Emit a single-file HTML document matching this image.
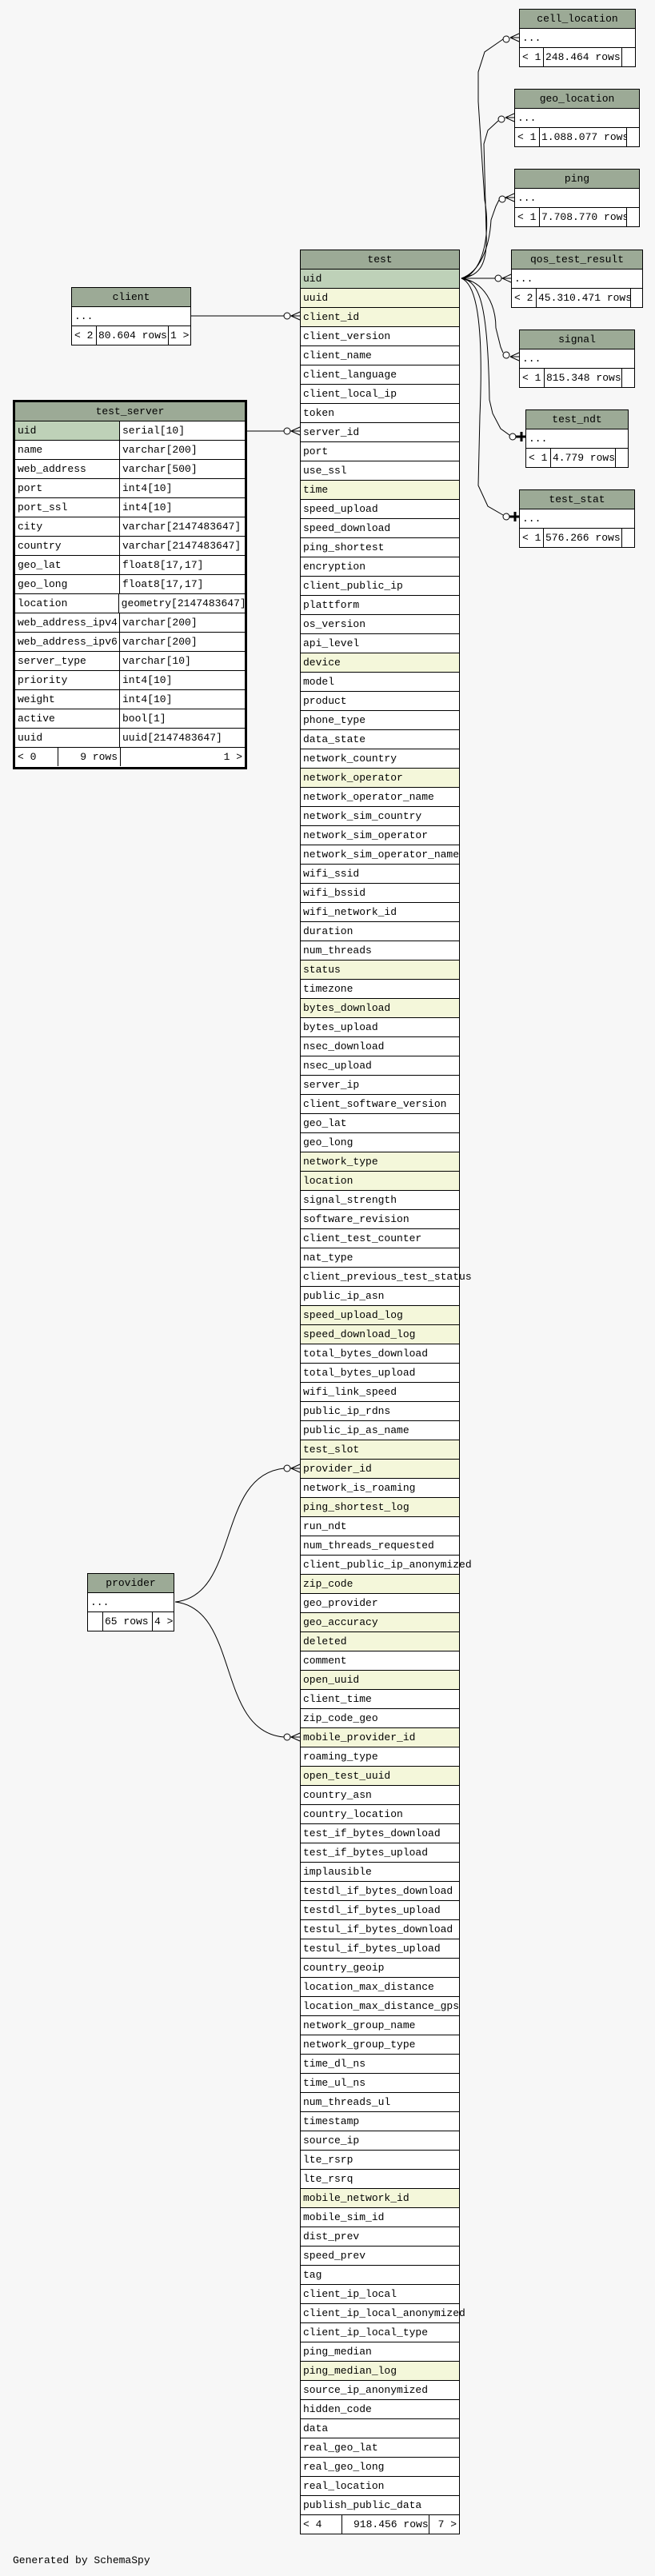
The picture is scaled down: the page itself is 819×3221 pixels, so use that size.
<!DOCTYPE html>
<html><head><meta charset="utf-8">
<style>
body{margin:0;background:#f7f7f7;width:819px;height:3221px;position:relative;overflow:hidden;font-family:"Liberation Mono","DejaVu Sans Mono",monospace;font-size:13px;color:#000}
.t{position:absolute;border:1px solid #000;background:#fff;box-sizing:border-box}
.t>div{height:23px;line-height:23px;border-bottom:1px solid #000;padding-left:3px;white-space:nowrap;position:relative}
.t>div:last-child{border-bottom:none}
.t>.h{background:#9caa96;text-align:center;padding-left:0}
.t>.p{background:#bed1b8}
.t>.y{background:#f4f7da}
.t>.f{display:flex;padding-left:0}
.f span{display:block;height:23px;border-left:1px solid #000;padding:0 3px;overflow:hidden;white-space:nowrap;box-sizing:border-box}
.f span:first-child{border-left:none}
.c2{display:flex;padding-left:0!important}
.c2 span{display:block;box-sizing:border-box;padding-left:3px;overflow:hidden;white-space:nowrap}
.c2 span:first-child{width:131px;border-right:1px solid #000}
svg{position:absolute;left:0;top:0}
</style></head><body>
<svg width="819" height="3221" fill="none" stroke="#000" stroke-width="1">
<!-- right connectors -->
<path d="M577,348 C600,345 615,300 606,250 L598,127 L598,90 L606,65 L629,49"/>
<path d="M577,348 C600,345 610,330 608,290 L605,180 L610,163 L623,151"/>
<path d="M577,348 C600,340 612,310 614,275 L620,258 L624,250"/>
<path d="M577,348 L635,348"/>
<path d="M577,348 C605,352 620,380 620,410 L626,434 L629,441"/>
<path d="M577,348 C600,352 610,380 612,500 L616,517 L626,536 L637,544"/>
<path d="M577,348 C595,355 605,400 600,520 L598,607 L610,633 L629,644"/>
<!-- left connectors -->
<path d="M239,395 L375,395"/>
<path d="M309,539 L375,539"/>
<path d="M219,2003 C300,1995 270,1845 355,1836 L375,1836"/>
<path d="M219,2003 C300,2012 270,2165 355,2172 L375,2172"/>
<g fill="#fff">
<circle cx="633" cy="49" r="4"/><circle cx="627" cy="149" r="4"/><circle cx="628" cy="249" r="4"/>
<circle cx="623" cy="348" r="4"/><circle cx="633" cy="444" r="4"/>
<circle cx="641" cy="546" r="4"/><circle cx="633" cy="646" r="4"/>
<circle cx="359" cy="395" r="4"/><circle cx="359" cy="539" r="4"/>
<circle cx="359" cy="1836" r="4"/><circle cx="359" cy="2172" r="4"/>
</g>
<g>
<path d="M638,47 L649,42 M638,47 L649,47 M638,47 L649,52"/>
<path d="M632,147 L643,142 M632,147 L643,147 M632,147 L643,152"/>
<path d="M632,247 L643,242 M632,247 L643,247 M632,247 L643,252"/>
<path d="M628,348 L639,343 M628,348 L639,348 M628,348 L639,353"/>
<path d="M638,446 L649,441 M638,446 L649,446 M638,446 L649,451"/>
<path d="M364,395 L375,390 M364,395 L375,395 M364,395 L375,400"/>
<path d="M364,539 L375,534 M364,539 L375,539 M364,539 L375,544"/>
<path d="M364,1836 L375,1831 M364,1836 L375,1836 M364,1836 L375,1841"/>
<path d="M364,2172 L375,2167 M364,2172 L375,2172 M364,2172 L375,2177"/>
<path d="M645,546 L657,546 M652,540 L652,552" stroke-width="3"/>
<path d="M637,646 L649,646 M644,640 L644,652" stroke-width="3"/>
<path d="M577,348 L590,344 M577,348 L590,352"/>
</g>
</svg>

<!-- right small tables -->
<div class="t" style="left:649px;top:11px;width:146px"><div class="h">cell_location</div><div>...</div><div class="f"><span style="width:29px">&lt; 1</span><span style="width:98px;padding-left:2px">248.464 rows</span><span style="width:17px"></span></div></div>
<div class="t" style="left:643px;top:111px;width:157px"><div class="h">geo_location</div><div>...</div><div class="f"><span style="width:30px">&lt; 1</span><span style="width:109px;padding-left:2px">1.088.077 rows</span><span style="width:16px"></span></div></div>
<div class="t" style="left:643px;top:211px;width:157px"><div class="h">ping</div><div>...</div><div class="f"><span style="width:30px">&lt; 1</span><span style="width:109px;padding-left:2px">7.708.770 rows</span><span style="width:16px"></span></div></div>
<div class="t" style="left:639px;top:312px;width:165px"><div class="h">qos_test_result</div><div>...</div><div class="f"><span style="width:30px">&lt; 2</span><span style="width:118px;padding-left:2px">45.310.471 rows</span><span style="width:15px"></span></div></div>
<div class="t" style="left:649px;top:412px;width:145px"><div class="h">signal</div><div>...</div><div class="f"><span style="width:30px">&lt; 1</span><span style="width:97px;padding-left:2px">815.348 rows</span><span style="width:16px"></span></div></div>
<div class="t" style="left:657px;top:512px;width:129px"><div class="h">test_ndt</div><div>...</div><div class="f"><span style="width:30px">&lt; 1</span><span style="width:81px;padding-left:2px">4.779 rows</span><span style="width:16px"></span></div></div>
<div class="t" style="left:649px;top:612px;width:145px"><div class="h">test_stat</div><div>...</div><div class="f"><span style="width:29px">&lt; 1</span><span style="width:98px;padding-left:2px">576.266 rows</span><span style="width:16px"></span></div></div>

<!-- client -->
<div class="t" style="left:89px;top:359px;width:150px"><div class="h">client</div><div>...</div><div class="f"><span style="width:30px">&lt; 2</span><span style="width:90px;padding-left:2px">80.604 rows</span><span style="width:28px;padding-left:2px">1 &gt;</span></div></div>

<!-- provider -->
<div class="t" style="left:109px;top:1967px;width:109px"><div class="h">provider</div><div>...</div><div class="f"><span style="width:18px"></span><span style="width:62px;padding-left:2px">65 rows</span><span style="width:27px;padding-left:2px">4 &gt;</span></div></div>

<!-- test_server -->
<div class="t" style="left:16px;top:500px;width:293px;height:462px;border:3px solid #000">
<div class="h">test_server</div>
<div class="c2 p" style="background:linear-gradient(90deg,#bed1b8 131px,#fff 131px)"><span>uid</span><span>serial[10]</span></div>
<div class="c2"><span>name</span><span>varchar[200]</span></div>
<div class="c2"><span>web_address</span><span>varchar[500]</span></div>
<div class="c2"><span>port</span><span>int4[10]</span></div>
<div class="c2"><span>port_ssl</span><span>int4[10]</span></div>
<div class="c2"><span>city</span><span>varchar[2147483647]</span></div>
<div class="c2"><span>country</span><span>varchar[2147483647]</span></div>
<div class="c2"><span>geo_lat</span><span>float8[17,17]</span></div>
<div class="c2"><span>geo_long</span><span>float8[17,17]</span></div>
<div class="c2"><span>location</span><span>geometry[2147483647]</span></div>
<div class="c2"><span>web_address_ipv4</span><span>varchar[200]</span></div>
<div class="c2"><span>web_address_ipv6</span><span>varchar[200]</span></div>
<div class="c2"><span>server_type</span><span>varchar[10]</span></div>
<div class="c2"><span>priority</span><span>int4[10]</span></div>
<div class="c2"><span>weight</span><span>int4[10]</span></div>
<div class="c2"><span>active</span><span>bool[1]</span></div>
<div class="c2"><span>uuid</span><span>uuid[2147483647]</span></div>
<div class="f"><span style="width:53px">&lt; 0</span><span style="width:78px;text-align:right">9 rows</span><span style="width:156px;text-align:right">1 &gt;</span></div>
</div>

<!-- test -->
<div class="t" style="left:375px;top:312px;width:200px">
<div class="h">test</div>
<div class="p">uid</div><div class="y">uuid</div><div class="y">client_id</div><div>client_version</div><div>client_name</div><div>client_language</div><div>client_local_ip</div><div>token</div><div>server_id</div><div>port</div>
<div>use_ssl</div><div class="y">time</div><div>speed_upload</div><div>speed_download</div><div>ping_shortest</div><div>encryption</div><div>client_public_ip</div><div>plattform</div><div>os_version</div><div>api_level</div>
<div class="y">device</div><div>model</div><div>product</div><div>phone_type</div><div>data_state</div><div>network_country</div><div class="y">network_operator</div><div>network_operator_name</div><div>network_sim_country</div><div>network_sim_operator</div>
<div>network_sim_operator_name</div><div>wifi_ssid</div><div>wifi_bssid</div><div>wifi_network_id</div><div>duration</div><div>num_threads</div><div class="y">status</div><div>timezone</div><div class="y">bytes_download</div><div>bytes_upload</div>
<div>nsec_download</div><div>nsec_upload</div><div>server_ip</div><div>client_software_version</div><div>geo_lat</div><div>geo_long</div><div class="y">network_type</div><div class="y">location</div><div>signal_strength</div><div>software_revision</div>
<div>client_test_counter</div><div>nat_type</div><div>client_previous_test_status</div><div>public_ip_asn</div><div class="y">speed_upload_log</div><div class="y">speed_download_log</div><div>total_bytes_download</div><div>total_bytes_upload</div><div>wifi_link_speed</div><div>public_ip_rdns</div>
<div>public_ip_as_name</div><div class="y">test_slot</div><div class="y">provider_id</div><div>network_is_roaming</div><div class="y">ping_shortest_log</div><div>run_ndt</div><div>num_threads_requested</div><div>client_public_ip_anonymized</div><div class="y">zip_code</div><div>geo_provider</div>
<div class="y">geo_accuracy</div><div class="y">deleted</div><div>comment</div><div class="y">open_uuid</div><div>client_time</div><div>zip_code_geo</div><div class="y">mobile_provider_id</div><div>roaming_type</div><div class="y">open_test_uuid</div><div>country_asn</div>
<div>country_location</div><div>test_if_bytes_download</div><div>test_if_bytes_upload</div><div>implausible</div><div>testdl_if_bytes_download</div><div>testdl_if_bytes_upload</div><div>testul_if_bytes_download</div><div>testul_if_bytes_upload</div><div>country_geoip</div><div>location_max_distance</div>
<div>location_max_distance_gps</div><div>network_group_name</div><div>network_group_type</div><div>time_dl_ns</div><div>time_ul_ns</div><div>num_threads_ul</div><div>timestamp</div><div>source_ip</div><div>lte_rsrp</div><div>lte_rsrq</div>
<div class="y">mobile_network_id</div><div>mobile_sim_id</div><div>dist_prev</div><div>speed_prev</div><div>tag</div><div>client_ip_local</div><div>client_ip_local_anonymized</div><div>client_ip_local_type</div><div>ping_median</div><div class="y">ping_median_log</div>
<div>source_ip_anonymized</div><div>hidden_code</div><div>data</div><div>real_geo_lat</div><div>real_geo_long</div><div>real_location</div><div>publish_public_data</div>
<div class="f"><span style="width:51px">&lt; 4</span><span style="width:109px;padding-left:14px">918.456 rows</span><span style="width:38px;text-align:right">7 &gt;</span></div>
</div>

<div style="position:absolute;left:16px;top:3194px;font-size:13px;line-height:16px;white-space:nowrap">Generated by SchemaSpy</div>
</body></html>
